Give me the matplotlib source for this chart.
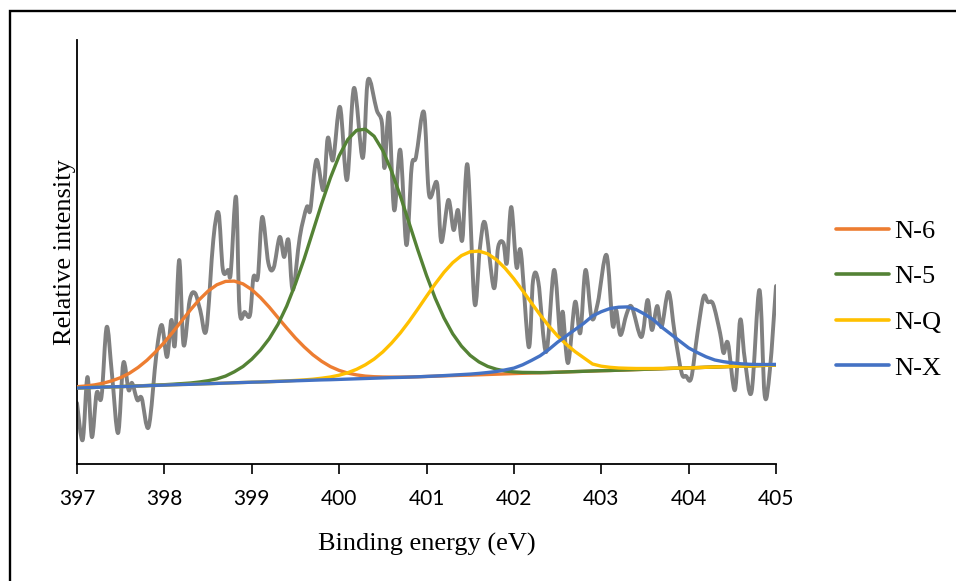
import numpy as np
import matplotlib
matplotlib.use("Agg")
import matplotlib.pyplot as plt
from matplotlib.path import Path
from matplotlib.patches import PathPatch, Rectangle

# ---------------- data ----------------
# raw (noisy) N1s spectrum, binding energy (eV) and relative intensity
raw_energy = [397.00, 397.065, 397.12, 397.17, 397.225, 397.28, 397.34, 397.40, 397.47, 397.53,
              397.59, 397.63, 397.69, 397.74, 397.82, 397.91, 397.97, 398.03, 398.08, 398.12,
              398.17, 398.22, 398.29, 398.35, 398.41, 398.48, 398.56, 398.62, 398.67, 398.73,
              398.76, 398.82, 398.86, 398.92, 398.98, 399.02, 399.07, 399.12, 399.19, 399.25,
              399.32, 399.37, 399.42, 399.47, 399.55, 399.63, 399.67, 399.74, 399.82, 399.87,
              399.93, 400.01, 400.09, 400.17, 400.27, 400.33, 400.43, 400.49, 400.52, 400.57,
              400.63, 400.70, 400.77, 400.83, 400.88, 400.97, 401.03, 401.12, 401.17, 401.25,
              401.31, 401.36, 401.41, 401.47, 401.55, 401.61, 401.67, 401.77, 401.82, 401.88,
              401.92, 401.97, 402.03, 402.08, 402.17, 402.22, 402.28, 402.37, 402.46, 402.53,
              402.56, 402.62, 402.70, 402.76, 402.82, 402.89, 402.96, 403.06, 403.13, 403.17,
              403.22, 403.29, 403.35, 403.46, 403.53, 403.58, 403.64, 403.69, 403.77, 403.84,
              403.92, 403.97, 404.03, 404.10, 404.17, 404.22, 404.28, 404.36, 404.40, 404.45,
              404.53, 404.59, 404.64, 404.72, 404.81, 404.87, 404.93, 405.00]
raw_intensity = [61, 24, 87, 27, 71, 67, 137, 90, 31, 101,
                 74, 81, 64, 66, 37, 111, 139, 107, 144, 119,
                 204, 119, 164, 171, 154, 134, 224, 251, 194, 194,
                 191, 267, 154, 152, 149, 187, 187, 247, 201, 196,
                 227, 207, 224, 174, 227, 257, 254, 304, 274, 326,
                 304, 357, 284, 376, 306, 384, 354, 341, 296, 351,
                 254, 314, 219, 297, 307, 352, 269, 281, 222, 264,
                 234, 254, 224, 299, 161, 215, 241, 176, 217, 221,
                 201, 257, 197, 212, 117, 184, 182, 112, 194, 127,
                 152, 101, 162, 131, 194, 146, 161, 209, 139, 154,
                 129, 150, 157, 127, 164, 134, 158, 137, 172, 131,
                 91, 88, 86, 130, 167, 162, 160, 131, 111, 121,
                 74, 144, 107, 72, 174, 69, 94, 178]

# fitted components on a 0.1 eV grid (397.0 ... 405.0)
fit_energy = np.linspace(397.0, 405.0, 81)
baseline = [76.0, 76.3, 76.6, 76.9, 77.2, 77.4, 77.7, 78.0, 78.3, 78.6,
            78.9, 79.2, 79.5, 79.7, 80.0, 80.3, 80.6, 80.9, 81.2, 81.5,
            81.8, 82.0, 82.3, 82.6, 82.9, 83.2, 83.5, 83.8, 84.1, 84.3,
            84.6, 84.9, 85.2, 85.5, 85.8, 86.1, 86.4, 86.6, 86.9, 87.2,
            87.5, 87.8, 88.1, 88.4, 88.7, 88.9, 89.2, 89.5, 89.8, 90.1,
            90.4, 90.7, 91.0, 91.2, 91.5, 91.8, 92.1, 92.4, 92.7, 93.0,
            93.3, 93.5, 93.8, 94.1, 94.4, 94.7, 95.0, 95.3, 95.6, 95.8,
            96.1, 96.4, 96.7, 97.0, 97.3, 97.6, 97.9, 98.1, 98.4, 98.7, 99.0]
n6_peak = [1.3, 1.7, 2.5, 3.9, 6.0, 9.0, 13.1, 18.6, 25.4, 33.6,
           42.8, 53.1, 63.8, 74.6, 84.4, 92.6, 98.6, 101.7, 101.7, 98.6,
           92.6, 84.4, 74.6, 63.8, 53.1, 42.8, 33.6, 25.4, 18.6, 13.1,
           9.0, 6.0, 3.9, 2.4, 1.5, 0.9, 0.5, 0.3, 0.1, 0,
           0, 0, 0, 0, 0, 0, 0, 0, 0, 0,
           0, 0, 0, 0, 0, 0, 0, 0, 0, 0,
           0, 0, 0, 0, 0, 0, 0, 0, 0, 0,
           0, 0, 0, 0, 0, 0, 0, 0, 0, 0, 0]
n5_peak = [0, 0, 0, 0, 0, 0, 0.1, 0.1, 0.2, 0.3,
           0.4, 0.6, 0.9, 1.3, 2.0, 3.0, 4.5, 7.0, 11.0, 16.0,
           23.0, 32.0, 43.0, 57.0, 75.0, 97.0, 121.7, 148.9, 176.2, 201.8,
           223.6, 239.7, 248.5, 249.3, 242.0, 227.3, 206.5, 181.5, 154.4, 127.0,
           101.1, 77.9, 58.0, 41.8, 29.2, 19.7, 12.9, 8.1, 5.0, 2.9,
           1.7, 0.9, 0.5, 0.2, 0, 0, 0, 0, 0, 0,
           0, 0, 0, 0, 0, 0, 0, 0, 0, 0,
           0, 0, 0, 0, 0, 0, 0, 0, 0, 0, 0]
nq_peak = [0, 0, 0, 0, 0, 0, 0, 0, 0, 0,
           0, 0, 0, 0, 0, 0, 0, 0, 0, 0,
           0, 0, 0, 0.1, 0.2, 0.4, 0.6, 1.0, 1.7, 2.7,
           4.2, 6.4, 9.5, 13.7, 19.1, 26.0, 34.5, 44.4, 55.6, 67.7,
           80.2, 92.4, 103.6, 112.9, 119.7, 123.4, 123.7, 120.7, 114.5, 105.6,
           94.8, 82.7, 70.2, 58.0, 46.5, 36.3, 27.6, 20.0, 13.5, 7.0,
           4.5, 3.2, 2.2, 1.6, 1.1, 0.8, 0.5, 0.3, 0.2, 0.1,
           0, 0, 0, 0, 0, 0, 0, 0, 0, 0, 0]
nx_peak = [0, 0, 0, 0, 0, 0, 0, 0, 0, 0,
           0, 0, 0, 0, 0, 0, 0, 0, 0, 0,
           0, 0, 0, 0, 0, 0, 0, 0, 0, 0,
           0, 0, 0, 0, 0, 0, 0, 0, 0, 0,
           0.1, 0.2, 0.3, 0.5, 0.7, 1.0, 1.4, 2.0, 2.7, 4.0,
           5.5, 8.5, 12.5, 17.0, 23.0, 30.0, 36.0, 42.0, 48.0, 55.0,
           59.0, 62.0, 63.0, 63.0, 60.0, 55.0, 49.0, 41.0, 34.0, 27.0,
           20.0, 15.0, 10.5, 7.0, 5.0, 3.5, 2.3, 1.6, 1.1, 0.8, 0.6]

series_labels = ["N-6", "N-5", "N-Q", "N-X"]
series_colors = ["#ED7D31", "#548235", "#FFC000", "#4472C4"]
x_ticks = [397, 398, 399, 400, 401, 402, 403, 404, 405]


def smooth_path(x, y):
    pts = np.column_stack([x, y]).astype(float)
    n = len(pts)
    verts = [pts[0]]
    codes = [Path.MOVETO]
    for i in range(n - 1):
        p0 = pts[i - 1] if i > 0 else pts[i]
        p1 = pts[i]
        p2 = pts[i + 1]
        p3 = pts[i + 2] if i + 2 < n else pts[i + 1]
        c1 = p1 + (p2 - p0) / 6.0
        c2 = p2 - (p3 - p1) / 6.0
        verts += [c1, c2, p2]
        codes += [Path.CURVE4] * 3
    return Path(verts, codes)


fig = plt.figure(figsize=(9.56, 5.81), dpi=100)
ax = fig.add_axes([77 / 956, 1 - 464 / 581, (776 - 77) / 956, (464 - 40) / 581])

# raw data, smoothed line like the spreadsheet chart
raw_patch = PathPatch(smooth_path(raw_energy, raw_intensity), facecolor="none",
                      edgecolor="#808080", lw=2.8, capstyle="round", joinstyle="round",
                      transform=ax.transData, zorder=2)
ax.add_patch(raw_patch)

base = np.array(baseline)
for peak, lab, col, z in zip([n6_peak, n5_peak, nq_peak, nx_peak], series_labels,
                             series_colors, [3, 4, 5, 6]):
    ax.plot(fit_energy, base + np.array(peak), color=col, lw=2.4, label=lab,
            solid_capstyle="round", zorder=z)

ax.set_xlim(397, 405)
ax.set_ylim(0, 424)
ax.set_xticks(x_ticks)
ax.set_xticklabels([str(t) for t in x_ticks], fontfamily="Lato", fontsize=15)
ax.set_yticks([])
ax.tick_params(axis="x", direction="out", length=7, width=1.2, pad=11, colors="black")
for s in ["top", "right"]:
    ax.spines[s].set_visible(False)
for s in ["left", "bottom"]:
    ax.spines[s].set_linewidth(1.3)
    ax.spines[s].set_color("black")

ax.set_xlabel("Binding energy (eV)", fontfamily="Liberation Serif", fontsize=19, labelpad=17)
ax.set_ylabel("Relative intensity", fontfamily="Liberation Serif", fontsize=19, labelpad=1)

leg = fig.legend(loc="center left", bbox_to_anchor=(836 / 956, 1 - 299.5 / 581),
                 frameon=False, prop={"family": "Liberation Serif", "size": 19},
                 handlelength=2.0, handletextpad=0.2, labelspacing=0.84, borderpad=0,
                 borderaxespad=0)
for h in leg.get_lines():
    h.set_linewidth(2.6)

# outer frame (extends past the right/bottom edges of the picture)
fig.patches.append(Rectangle((9.5 / 956, -0.1), 1.2, 1.1 - 11 / 581, transform=fig.transFigure,
                             fill=False, edgecolor="black", lw=1.7, clip_on=False))

fig.savefig("out.png", dpi=100)
